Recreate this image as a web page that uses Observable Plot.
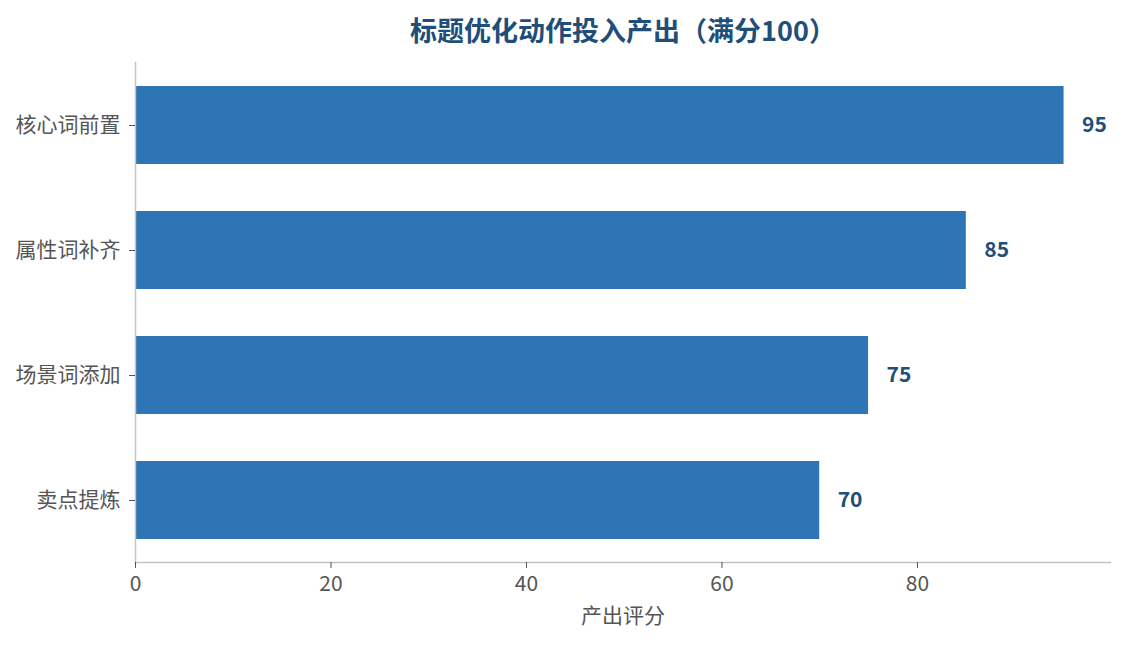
<!DOCTYPE html>
<html>
<head>
<meta charset="utf-8">
<script src="https://cdn.jsdelivr.net/npm/d3@7"></script>
<script src="https://cdn.jsdelivr.net/npm/@observablehq/plot@0.6"></script>
<style>
  html, body { margin: 0; padding: 0; background: #fff; }
  #title {
    margin-left: 135px; width: 976px; height: 50px;
    text-align: center; line-height: 60px;
    font-family: "Noto Sans CJK SC", sans-serif; font-weight: bold;
    font-size: 27px; color: #1f4e79;
  }
</style>
</head>
<body>
<div id="title">标题优化动作投入产出（满分100）</div>
<div id="chart"></div>
<script>
const categories = ["核心词前置", "属性词补齐", "场景词添加", "卖点提炼"];
const scores = [95, 85, 75, 70];
const xTicks = [0, 20, 40, 60, 80];
const xLabel = "产出评分";

const data = categories.map((c, i) => ({category: c, score: scores[i]}));

const chart = Plot.plot({
  width: 1124,
  height: 595,
  marginTop: 12,
  marginBottom: 83,
  marginLeft: 135,
  marginRight: 14,
  style: {fontFamily: "\"Noto Sans CJK SC\", sans-serif", fontSize: "21px", color: "#555", background: "#fff"},
  x: {domain: [0, 99.75], ticks: xTicks},
  y: {domain: categories, paddingInner: 0.38, paddingOuter: 0.19, align: 0.5},
  marks: [
    Plot.barX(data, {x: "score", y: "category", fill: "#2e75b6"}),
    Plot.text(data, {x: "score", y: "category", text: d => String(d.score), textAnchor: "start", dx: 18,
      fill: "#1f4e79", fontWeight: "bold", fontSize: 21}),
    Plot.frame({anchor: "left", stroke: "#c4c4c4", strokeWidth: 1.5}),
    Plot.frame({anchor: "bottom", stroke: "#c4c4c4", strokeWidth: 1.5}),
    Plot.axisX({ticks: xTicks, tickSize: 6, tickPadding: 8, stroke: "#555", fill: "#555", fontSize: 21, label: null}),
    Plot.axisY({tickSize: 6, tickPadding: 9, stroke: "#555", fill: "#555", fontSize: 21, label: null}),
    Plot.text([xLabel], {frameAnchor: "bottom", lineAnchor: "middle", dy: 54, fill: "#555", fontSize: 21})
  ]
});
document.getElementById("chart").appendChild(chart);
</script>
</body>
</html>
